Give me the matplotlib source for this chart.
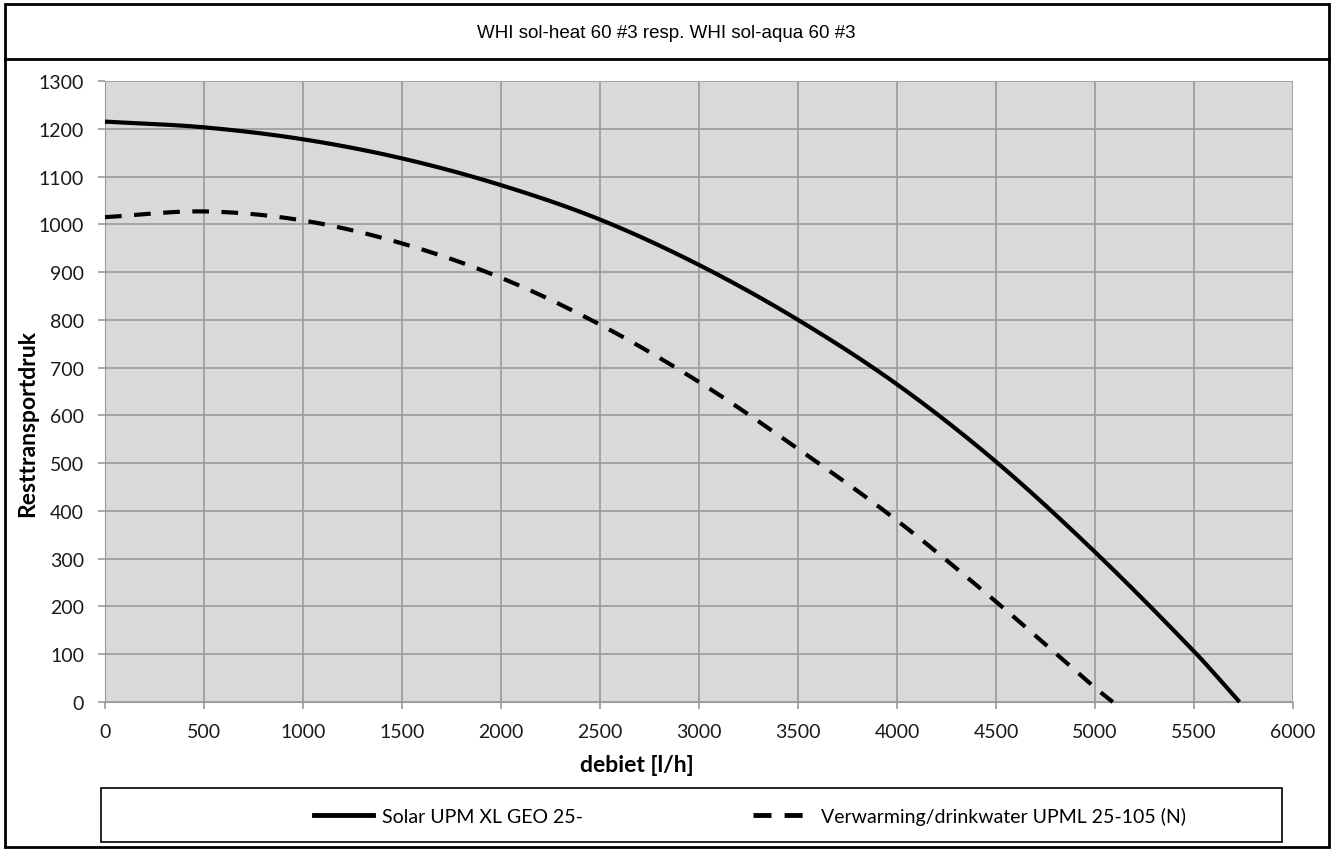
import matplotlib
matplotlib.use("Agg")
import numpy as np
import matplotlib.pyplot as plt
from matplotlib.patches import Rectangle
from matplotlib.lines import Line2D

# pump curves
solarFlow = [0, 500, 1000, 1500, 2000, 2500, 3000, 3500, 4000, 4500, 5000, 5500, 5730]
solarHead = [1215, 1203, 1178, 1138, 1082, 1010, 915, 800, 665, 503, 314, 106, 0]

heatFlow = [0, 500, 1000, 1500, 2000, 2500, 3000, 3500, 4000, 4500, 5000, 5090]
heatHead = [1015, 1027, 1008, 960, 888, 790, 670, 530, 380, 210, 30, 0]

xTicks = list(range(0, 6001, 500))
yTicks = list(range(0, 1301, 100))

titleText = "WHI sol-heat 60 #3 resp. WHI sol-aqua 60 #3"
solarLabel = "Solar UPM XL GEO 25-"
heatLabel = "Verwarming/drinkwater UPML 25-105 (N)"

W, H = 1333, 853
fig = plt.figure(figsize=(W / 100, H / 100), dpi=100)

def fx(px):
    return px / W

def fy(py):
    return 1 - py / H

ax = fig.add_axes([fx(105), fy(703), fx(1293) - fx(105), fy(82) - fy(703)])
ax.set_facecolor("#d9d9d9")

# cubic hermite through the read points so the curve looks smooth like excel
def smooth(xs, ys):
    xs = np.asarray(xs, float)
    ys = np.asarray(ys, float)
    xx = np.linspace(xs[0], xs[-1], 300)
    n = len(xs)
    m = np.zeros(n)
    for i in range(n):
        if i == 0:
            m[i] = (ys[1] - ys[0]) / (xs[1] - xs[0])
        elif i == n - 1:
            m[i] = (ys[-1] - ys[-2]) / (xs[-1] - xs[-2])
        else:
            m[i] = (ys[i + 1] - ys[i - 1]) / (xs[i + 1] - xs[i - 1])
    out = []
    for x in xx:
        k = min(np.searchsorted(xs, x, side="right") - 1, n - 2)
        h = xs[k + 1] - xs[k]
        t = (x - xs[k]) / h
        h00 = 2 * t**3 - 3 * t**2 + 1
        h10 = t**3 - 2 * t**2 + t
        h01 = -2 * t**3 + 3 * t**2
        h11 = t**3 - t**2
        out.append(h00 * ys[k] + h10 * h * m[k] + h01 * ys[k + 1] + h11 * h * m[k + 1])
    return xx, np.array(out)

sx, sy = smooth(solarFlow, solarHead)
hx, hy = smooth(heatFlow, heatHead)

ax.plot(sx, sy, color="black", lw=3, solid_capstyle="butt", clip_on=False, zorder=3)
ax.plot(hx, hy, color="black", lw=3, dashes=(4, 3), clip_on=False, zorder=3)

ax.set_xlim(0, 6000)
ax.set_ylim(0, 1300)
ax.set_xticks(xTicks)
ax.set_yticks(yTicks)
ax.grid(True, color="#9a9a9a", lw=1.2)
ax.set_axisbelow(True)
for s in ["top", "right"]:
    ax.spines[s].set_visible(False)
ax.spines["left"].set_color("#9a9a9a")
ax.spines["bottom"].set_color("#9a9a9a")
ax.tick_params(axis="both", colors="#9a9a9a", length=5, width=1.2, labelcolor="#1a1a1a",
               labelsize=14)
ax.tick_params(axis="y", pad=10)
ax.tick_params(axis="x", pad=10)
for lab in ax.get_xticklabels() + ax.get_yticklabels():
    lab.set_family("Lato")

ax.set_xlabel("debiet [l/h]", fontsize=16.5, fontweight="bold", family="Lato", va="center")
ax.xaxis.set_label_coords(0.448, -0.1)
ax.set_ylabel("Resttransportdruk", fontsize=16.5, fontweight="bold", family="Lato")
ax.yaxis.set_label_coords(-0.056, 0.45)

# outer frame and title box
fig.add_artist(Rectangle((fx(5), fy(848)), fx(1329) - fx(5), fy(5) - fy(848),
                         transform=fig.transFigure, fill=False, ec="black", lw=2))
fig.add_artist(Line2D([fx(5), fx(1329)], [fy(60), fy(60)], transform=fig.transFigure,
                      color="black", lw=2))
fig.text(0.5, fy(33), titleText, ha="center", va="center", fontsize=13.5,
         family="Liberation Sans")

# legend box
fig.add_artist(Rectangle((fx(101), fy(843)), fx(1282) - fx(101), fy(789) - fy(843),
                         transform=fig.transFigure, fill=False, ec="black", lw=1.2))
leg = fig.legend([Line2D([], [], color="black", lw=3.5),
                  Line2D([], [], color="black", lw=3.5, dashes=(3.7, 2.7))],
                 [solarLabel, heatLabel], loc="center", bbox_to_anchor=(fx(750), fy(817)),
                 ncol=2, frameon=False, handlelength=3.0, handletextpad=0.5,
                 columnspacing=8.7, prop={"family": "Lato", "size": 14})

fig.savefig("out.png", dpi=100)
